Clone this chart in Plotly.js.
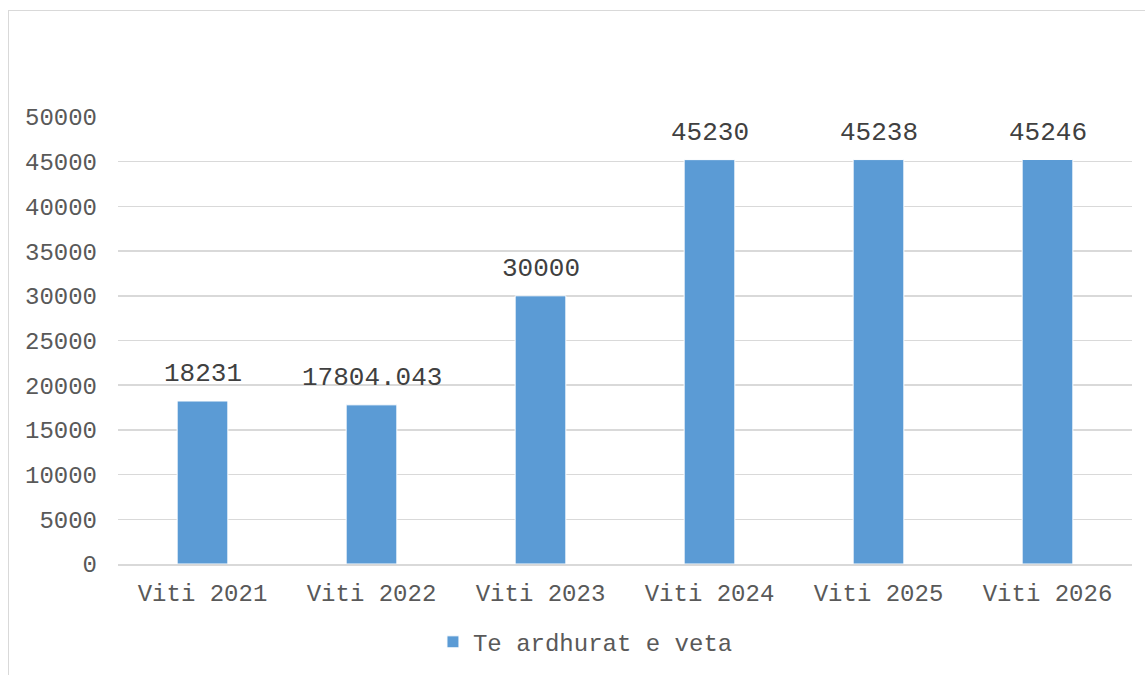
<!DOCTYPE html>
<html>
<head>
<meta charset="utf-8">
<script src="https://cdn.plot.ly/plotly-3.0.1.min.js"></script>
<style>
html,body{margin:0;padding:0;background:#fff;}
#frame{position:absolute;left:8px;top:10px;width:1160px;height:700px;border:1px solid #d9d9d9;box-sizing:border-box;pointer-events:none;}
#chart{position:absolute;left:0;top:0;width:1145px;height:675px;}
</style>
</head>
<body>
<div id="chart"></div>
<div id="frame"></div>
<script>
const categories = ["Viti 2021", "Viti 2022", "Viti 2023", "Viti 2024", "Viti 2025", "Viti 2026"];
const values = [18231, 17804.043, 30000, 45230, 45238, 45246];
const valueLabels = ["18231", "17804.043", "30000", "45230", "45238", "45246"];
const seriesName = "Te ardhurat e veta";
const yTicks = [0, 5000, 10000, 15000, 20000, 25000, 30000, 35000, 40000, 45000, 50000];

const FONT = "'Liberation Mono', 'Courier New', monospace";

const trace = {
  type: "bar",
  x: categories,
  y: values,
  name: seriesName,
  marker: {color: "#5B9BD5", line: {color: "#ffffff", width: 1}},
  hoverinfo: "x+y",
  showlegend: true
};

const annotations = categories.map((c, i) => ({
  x: c, y: values[i], xref: "x", yref: "y",
  text: valueLabels[i], showarrow: false,
  yanchor: "middle", yshift: 27,
  font: {family: FONT, size: 26, color: "#404040"}
}));

const layout = {
  width: 1145, height: 675,
  margin: {l: 118, r: 13, t: 117, b: 111, pad: 0, autoexpand: false},
  paper_bgcolor: "#ffffff", plot_bgcolor: "#ffffff",
  font: {family: FONT, size: 24, color: "#595959"},
  bargap: 0.7,
  showlegend: true,
  legend: {orientation: "h", x: 0.461, xanchor: "center", y: -0.175, yanchor: "middle",
           font: {family: FONT, size: 24, color: "#595959"}, itemwidth: 30},
  xaxis: {
    type: "category", showgrid: false, zeroline: false, showline: true, automargin: false,
    linecolor: "#d9d9d9", linewidth: 1.5, ticks: "", ticklabelstandoff: 7,
    tickfont: {family: FONT, size: 24, color: "#595959"}
  },
  yaxis: {
    range: [0, 50000], tickvals: yTicks, ticktext: yTicks.map(String), automargin: false,
    showgrid: true, gridcolor: "#d9d9d9", gridwidth: 1.5, zeroline: false,
    showline: false, ticks: "", ticklabelstandoff: 20,
    tickfont: {family: FONT, size: 24, color: "#595959"}
  },
  annotations: annotations
};

Plotly.newPlot("chart", [trace], layout, {displayModeBar: false, staticPlot: true});
</script>
</body>
</html>
